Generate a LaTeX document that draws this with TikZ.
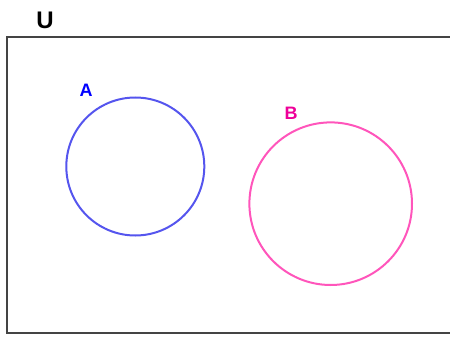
\documentclass[tikz,border=0pt]{standalone}
\usepackage{fontspec}
\setmainfont{Liberation Sans}
\definecolor{frame}{HTML}{444444}
\definecolor{circA}{HTML}{5555EE}
\definecolor{labA}{HTML}{0000FF}
\definecolor{circB}{HTML}{FF55BB}
\definecolor{labB}{HTML}{EE0099}
\begin{document}
\begin{tikzpicture}[x=1pt,y=-1pt,
  setlabel/.style={font=\bfseries\fontsize{18}{18}\selectfont, inner sep=0pt, anchor=center},
  setcirc/.style={line width=2pt}]
\useasboundingbox (0,0) rectangle (450,337);
\draw[frame, line width=2pt] (460,37) -- (7,37) -- (7,333) -- (460,333);
\node[font=\bfseries\fontsize{24}{24}\selectfont, inner sep=0pt, anchor=center] (U) at (45,20) {U};
\draw[circA, setcirc] (135.3,166.5) circle (69);
\node[setlabel, text=labA] (A) at (86,90.5) {A};
\draw[circB, setcirc] (330.7,203.7) circle (81.3);
\node[setlabel, text=labB] (B) at (291,113.5) {B};
\end{tikzpicture}
\end{document}
